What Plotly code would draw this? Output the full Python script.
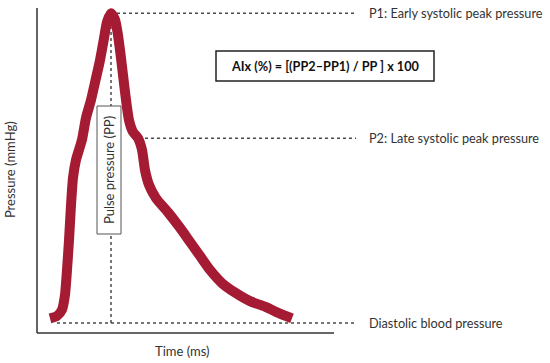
import plotly.graph_objects as go

# Schematic arterial pressure waveform (time in ms, pressure in mmHg)
time_ms = [39, 60, 75, 84, 90, 96, 102, 108, 117, 126, 135, 147, 162, 177, 189, 201, 210, 222,
           234, 243, 249, 258, 267, 276, 288, 303, 315, 324, 336, 357, 393, 429, 459, 489, 519,
           555, 594, 639, 684, 729, 765]
pressure_mmHg = [80.6, 80.9, 81.7, 83.6, 86.8, 90.6, 95.1, 98.6, 100.9, 102.2, 103.5, 106.3, 108.6,
                 111.4, 113.7, 116.5, 118.6, 119.7, 118.9, 116.9, 115.0, 111.8, 108.6, 106.0,
                 104.5, 103.7, 102.2, 99.6, 97.7, 96.0, 94.2, 92.2, 90.4, 88.6, 86.8, 85.1, 83.9,
                 82.8, 82.1, 81.2, 80.6]

p1_time, p1_pressure = 222, 119.7
p2_time, p2_pressure = 303, 103.7
diastolic_pressure = 80.0

level_labels = ["P1: Early systolic peak pressure",
                "P2: Late systolic peak pressure",
                "Diastolic blood pressure"]
formula_text = "AIx (%) = [(PP2\u2013PP1) / PP ] x 100"
pp_label = "Pulse pressure (PP)"
x_title = "Time (ms)"
y_title = "Pressure (mmHg)"

# ---- layout geometry (ms / mmHg scales) ----
X_RANGE = [-111, 1539]
Y_RANGE = [80 - 40 / 7.8, 80 + 323 / 7.8]
AXIS_P = 80 - 10 / 7.8
AXIS_TOP = 80 + 315 / 7.8
AXIS_T_END = 891
LINE_END = 957
LABEL_T = 990
DIA_START = 60
P2_START = 324

CURVE = "#A51B33"
DASH = "#4a4a4a"
TEXT = "#333333"
FONT = "Lato"

fig = go.Figure()
fig.add_trace(go.Scatter(
    x=time_ms, y=pressure_mmHg, mode="lines",
    line=dict(color=CURVE, width=10, shape="spline", smoothing=0.6),
    hoverinfo="skip", showlegend=False))

shapes = []
dash = dict(color=DASH, width=1.5, dash="3px,3px")
shapes.append(dict(type="line", x0=p1_time, x1=LINE_END, y0=p1_pressure, y1=p1_pressure, line=dash, layer="below"))
shapes.append(dict(type="line", x0=P2_START, x1=LINE_END, y0=p2_pressure, y1=p2_pressure, line=dash, layer="below"))
shapes.append(dict(type="line", x0=DIA_START, x1=LINE_END, y0=diastolic_pressure, y1=diastolic_pressure, line=dash, layer="below"))
shapes.append(dict(type="line", x0=p1_time, x1=p1_time, y0=diastolic_pressure, y1=p1_pressure, line=dash, layer="below"))
# axes
shapes.append(dict(type="line", x0=0, x1=0, y0=AXIS_P, y1=AXIS_TOP, line=dict(color="#333333", width=1.5)))
shapes.append(dict(type="line", x0=0, x1=AXIS_T_END, y0=AXIS_P, y1=AXIS_P, line=dict(color="#333333", width=1.5)))
# boxes
shapes.append(dict(type="rect", x0=180, x1=252, y0=91.41, y1=107.82, fillcolor="white",
                   line=dict(color="#555555", width=1), layer="above"))
shapes.append(dict(type="rect", x0=537, x1=1191, y0=111.03, y1=114.87, fillcolor="white",
                   line=dict(color="#222222", width=1.5), layer="above"))

annotations = []
for lab, yv in zip(level_labels, [p1_pressure, p2_pressure, diastolic_pressure]):
    annotations.append(dict(x=LABEL_T, y=yv, text=lab, showarrow=False, xanchor="left",
                            yanchor="middle", font=dict(family=FONT, size=12.7, color=TEXT)))
annotations.append(dict(x=864, y=112.95, text="<b>" + formula_text + "</b>", showarrow=False,
                        xanchor="center", yanchor="middle", font=dict(family=FONT, size=12.7, color="#111111")))
annotations.append(dict(x=216, y=99.6, text=pp_label, showarrow=False, textangle=-90,
                        xanchor="center", yanchor="middle", font=dict(family=FONT, size=13, color=TEXT)))
annotations.append(dict(x=436, y=76.4, text=x_title, showarrow=False, xanchor="center",
                        yanchor="middle", font=dict(family=FONT, size=13, color=TEXT)))
annotations.append(dict(x=-81, y=99.6, text=y_title, showarrow=False, textangle=-90,
                        xanchor="center", yanchor="middle", font=dict(family=FONT, size=13, color=TEXT)))

fig.update_layout(
    width=550, height=363,
    margin=dict(l=0, r=0, t=0, b=0),
    paper_bgcolor="white", plot_bgcolor="white",
    xaxis=dict(range=X_RANGE, visible=False, fixedrange=True),
    yaxis=dict(range=Y_RANGE, visible=False, fixedrange=True),
    shapes=shapes, annotations=annotations, showlegend=False,
)
fig.write_html("out.html", config={"displayModeBar": False},
               post_script="document.body.style.margin='0';document.body.style.overflow='hidden';")
